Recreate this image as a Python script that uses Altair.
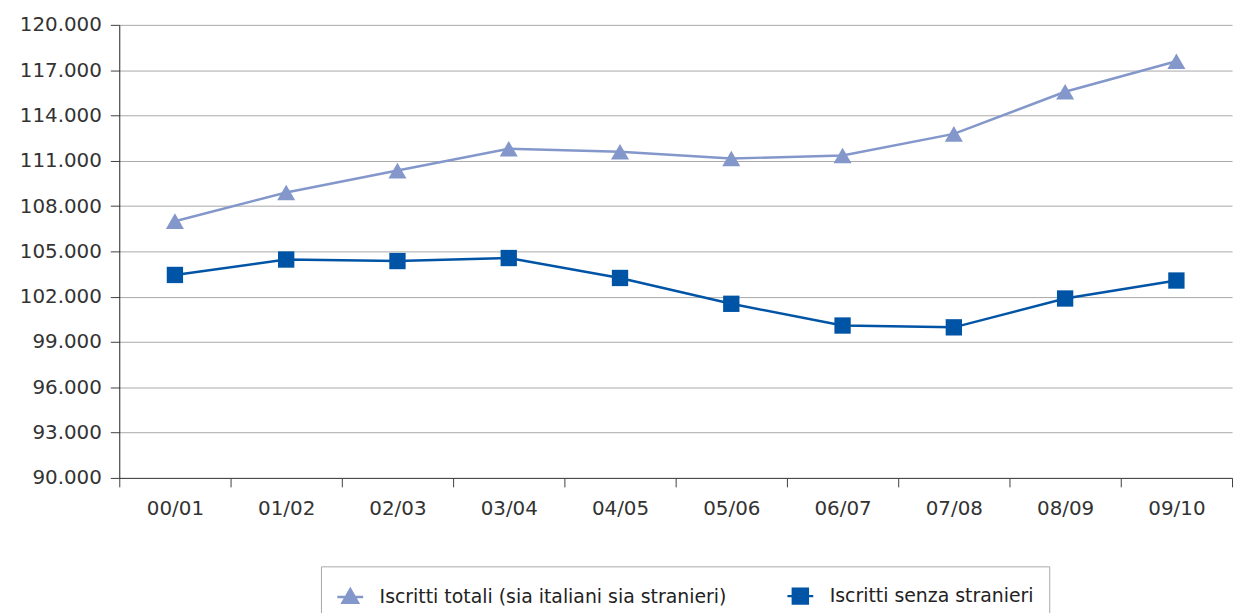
import altair as alt
import pandas as pd

anni = ["00/01", "01/02", "02/03", "03/04", "04/05", "05/06", "06/07", "07/08", "08/09", "09/10"]
totali = [107000, 108900, 110350, 111800, 111600, 111150, 111350, 112780, 115570, 117590]
senza_stranieri = [103440, 104460, 104360, 104560, 103240, 101530, 100090, 99970, 101880, 103070]
serie = ["Iscritti totali (sia italiani sia stranieri)", "Iscritti senza stranieri"]
colori = ["#8497CB", "#0054A6"]
forme = ["triangle-up", "square"]
dimensioni = [330, 270]
forme_legenda = [
    "M-1,0L1,0M0,-0.6L0.6,0.45L-0.6,0.45Z",
    "M-1,0L1,0M-0.58,-0.58L0.58,-0.58L0.58,0.58L-0.58,0.58Z",
]
tick_y = list(range(90000, 120001, 3000))

rows = []
for a, t, s in zip(anni, totali, senza_stranieri):
    rows.append({"anno": a, "serie": serie[0], "valore": t})
    rows.append({"anno": a, "serie": serie[1], "valore": s})
df = pd.DataFrame(rows)

FONT = "DejaVu Sans"

x = alt.X(
    "anno:N",
    sort=anni,
    scale=alt.Scale(type="band", paddingInner=0, paddingOuter=0),
    axis=alt.Axis(
        title=None, labelAngle=0, tickBand="extent", tickSize=9, labelPadding=12,
        labelFontSize=20, labelFont=FONT, labelColor="#333333",
        domainColor="#404040", tickColor="#404040", grid=False,
    ),
)
y = alt.Y(
    "valore:Q",
    scale=alt.Scale(domain=[90000, 120000], zero=False, nice=False),
    axis=alt.Axis(
        title=None, values=tick_y,
        labelExpr="replace(format(datum.value, ',d'), ',', '.')",
        labelFontSize=20, labelFont=FONT, labelColor="#333333", labelPadding=9,
        tickSize=9, tickColor="#404040", domainColor="#222222",
        gridColor="#A8A8A8", gridWidth=1,
    ),
)

color_scale = alt.Scale(domain=serie, range=colori)
base = alt.Chart(df)

layers = []
for nome, col in zip(serie, colori):
    layers.append(
        base.transform_filter(alt.datum.serie == nome)
        .mark_line(strokeWidth=2.5, color=col)
        .encode(x=x, y=y)
    )
for nome, col, forma, dim in zip(serie, colori, forme, dimensioni):
    layers.append(
        base.transform_filter(alt.datum.serie == nome)
        .mark_point(filled=True, shape=forma, size=dim, opacity=1, color=col)
        .encode(x=x, y=y)
    )


def leg():
    return alt.Legend(
        title=None, orient="none", legendX=203, legendY=545, direction="horizontal",
        strokeColor="#A8A8A8", fillColor="white", padding=15,
        labelFont=FONT, labelFontSize=19, labelColor="#222222", labelLimit=500,
        symbolSize=676, symbolStrokeWidth=2.5, symbolOpacity=1,
        columnPadding=55, labelOffset=15,
    )


legenda = base.transform_filter("false").mark_point(filled=True, strokeWidth=2.5).encode(
    x=x, y=y,
    fill=alt.Fill("serie:N", scale=color_scale, legend=leg()),
    stroke=alt.Stroke("serie:N", scale=color_scale, legend=leg()),
    shape=alt.Shape("serie:N", scale=alt.Scale(domain=serie, range=forme_legenda), legend=leg()),
)
layers.append(legenda)

chart = (
    alt.layer(*layers)
    .properties(
        width=1120, height=456,
        autosize=alt.AutoSizeParams(type="none"),
        padding={"left": 112, "top": 15, "right": 5, "bottom": 134},
    )
    .configure_view(stroke=None)
)

chart.save("out.html", embed_options={"renderer": "svg", "actions": False})
